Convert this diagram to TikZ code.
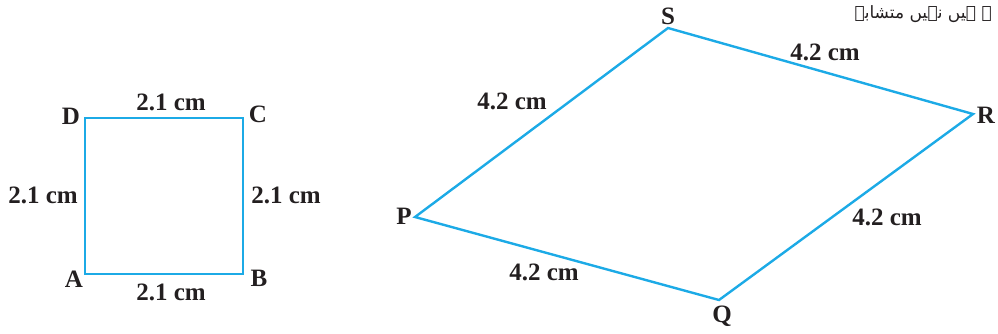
\documentclass[tikz,border=0pt]{standalone}
\usepackage{fontspec}
\setmainfont{Liberation Serif}
\newfontfamily\urdufont[Script=Arabic]{DejaVu Sans}
\TeXXeTstate=1
\definecolor{edgeblue}{RGB}{28,170,230}
\definecolor{inkc}{RGB}{35,31,32}
\begin{document}
\begin{tikzpicture}[x=1pt,y=-1pt,
  edge/.style={draw=edgeblue,line width=2.4pt,line join=miter},
  lbl/.style={inner sep=0pt,text=inkc,font=\fontsize{25}{25}\selectfont\bfseries}]
\useasboundingbox (0,0) rectangle (998,333);
% square
\coordinate (A) at (85,274);
\coordinate (B) at (243,274);
\coordinate (C) at (243,118);
\coordinate (D) at (85,118);
\draw[edge] (A) -- (B) -- (C) -- (D) -- cycle;
\node[lbl] (lA) at (74,279) {A};
\node[lbl] (lB) at (259,278) {B};
\node[lbl] (lC) at (258,114) {C};
\node[lbl] (lD) at (71,116) {D};
\node[lbl] (sDC) at (171,102) {2.1 cm};
\node[lbl] (sAD) at (43,195) {2.1 cm};
\node[lbl] (sBC) at (286,195) {2.1 cm};
\node[lbl] (sAB) at (171,292) {2.1 cm};
% rhombus
\coordinate (P) at (415,217);
\coordinate (Q) at (719,300);
\coordinate (R) at (973,114);
\coordinate (S) at (668,28);
\draw[edge] (P) -- (Q) -- (R) -- (S) -- cycle;
\node[lbl] (lP) at (404,216) {P};
\node[lbl] (lQ) at (722,316) {Q};
\node[lbl] (lR) at (986,115) {R};
\node[lbl] (lS) at (668,16) {S};
\node[lbl] (sSR) at (825,52) {4.2 cm};
\node[lbl] (sPS) at (512,101) {4.2 cm};
\node[lbl] (sRQ) at (887,217) {4.2 cm};
\node[lbl] (sPQ) at (544,272) {4.2 cm};
% Urdu text
\node[inner sep=0pt,text=inkc,anchor=east] (urdu) at (992,14)
  {\urdufont\fontsize{17}{17}\selectfont\beginR ۔ ہیں نہیں متشابہ\endR};
\end{tikzpicture}
\end{document}
